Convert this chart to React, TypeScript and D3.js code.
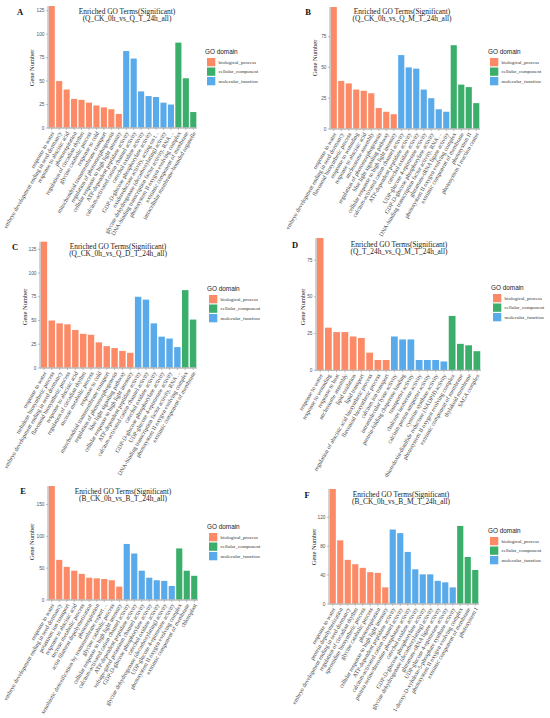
import * as d3 from "d3";

const domainNames = ["biological_process", "cellular_component", "molecular_function"];
const domainColors = ["#FC8A66", "#3BAE6B", "#58AAEA"];
// bar order in each panel: BP, then MF, then CC
const barOrder = [0, 2, 1];

// ---- A
const termsA = [
  "response to water",
  "embryo development ending in seed dormancy",
  "response to abscisic acid",
  "photorespiration",
  "regulation of circadian rhythm",
  "glycine catabolic process",
  "response to cold",
  "mitochondrial transmembrane transport",
  "regulation of photomorphogenesis",
  "cellular response to high light intensity",
  "ATP-dependent peptidase activity",
  "calcium-activated cation channel activity",
  "catechol oxidase activity",
  "GDP-D-glucose phosphorylase activity",
  "oxidoreductase activity, acting on t...",
  "glycine dehydrogenase (decarboxylating) activity",
  "DNA-binding transcription factor activity, RNA ...",
  "photosystem II oxygen evolving complex",
  "extrinsic component of membrane",
  "intracellular membrane-bounded organelle",
];
const countsA = [130, 50, 41, 31, 30, 27, 24, 22, 20, 15, 82, 74, 39, 34, 33, 27, 25, 91, 53, 17];
const sizesA = [10, 7, 3];
const ticksA = [0, 25, 50, 75, 100, 125];

// ---- B
const termsB = [
  "response to water",
  "embryo development ending in seed dormancy",
  "flavonoid biosynthetic process",
  "response to wounding",
  "response to abscisic acid",
  "nucleosome assembly",
  "regulation of photomorphogenesis",
  "blue light signaling pathway",
  "cellular response to high light intensity",
  "calcium-activated cation channel activity",
  "ATP-dependent peptidase activity",
  "catechol oxidase activity",
  "UDP-glucose 4-epimerase activity",
  "GDP-D-glucose phosphorylase activity",
  "DNA-binding transcription factor activity, RNA ...",
  "glutamate-tRNA ligase activity",
  "photosystem II oxygen evolving complex",
  "extrinsic component of membrane",
  "photosystem II",
  "photosystem I reaction center",
];
const countsB = [99, 39, 37, 32, 31, 29, 17, 14, 12, 60, 50, 49, 32, 25, 16, 14, 68, 36, 34, 21];
const sizesB = [9, 7, 4];
const ticksB = [0, 25, 50, 75];

// ---- C
const termsC = [
  "response to water",
  "trehalose biosynthetic process",
  "embryo development ending in seed dormancy",
  "flavonoid biosynthetic process",
  "response to abscisic acid",
  "regulation of circadian rhythm",
  "sucrose metabolic process",
  "response to cold",
  "mitochondrial transmembrane transport",
  "regulation of photomorphogenesis",
  "blue light signaling pathway",
  "cellular response to high light intensity",
  "ATP-dependent peptidase activity",
  "calcium-activated cation channel activity",
  "catechol oxidase activity",
  "GDP-D-glucose phosphorylase activity",
  "UDP-glucose 4-epimerase activity",
  "DNA-binding transcription factor activity, RNA ...",
  "photosystem II oxygen evolving complex",
  "extrinsic component of membrane",
];
const countsC = [133, 50, 47, 46, 40, 36, 35, 27, 23, 21, 18, 16, 75, 72, 47, 33, 31, 22, 82, 51];
const sizesC = [12, 6, 2];
const ticksC = [0, 25, 50, 75, 100, 125];

// ---- D
const termsD = [
  "response to water",
  "response to wounding",
  "response to heat",
  "nucleosome assembly",
  "lipid oxidation",
  "lipid transport",
  "regulation of abscisic acid biosynthetic process",
  "flavonoid biosynthetic process",
  "calcium ion transport",
  "intramolecular lyase activity",
  "protein-folding chaperone binding",
  "transporter activity",
  "chalcone isomerase activity",
  "calcium:proton antiporter activity",
  "cysteine synthase activity",
  "thioredoxin-disulfide reductase (NADPH) activity",
  "photosystem II oxygen evolving complex",
  "extrinsic component of membrane",
  "thylakoid membrane",
  "SAGA complex",
];
const countsD = [90, 29, 26, 26, 23, 22, 12, 7, 7, 23, 21, 21, 7, 7, 7, 6, 37, 18, 17, 13];
const sizesD = [9, 7, 4];
const ticksD = [0, 25, 50, 75];

// ---- E
const termsE = [
  "response to water",
  "embryo development ending in seed dormancy",
  "potassium ion transport",
  "response to abscisic acid",
  "sucrose metabolic process",
  "actin filament depolymerization",
  "photorespiration",
  "xenobiotic detoxification by transmembrane export ...",
  "glycine catabolic process",
  "cellular response to high light intensity",
  "calcium-activated cation channel activity",
  "ATP-dependent peptidase activity",
  "voltage-gated potassium channel activity",
  "GDP-D-glucose phosphorylase activity",
  "catechol oxidase activity",
  "glycine dehydrogenase (decarboxylating) activity",
  "UDP-glucose 4-epimerase activity",
  "photosystem II oxygen evolving complex",
  "extrinsic component of membrane",
  "chloroplast",
];
const countsE = [179, 63, 52, 46, 41, 35, 34, 33, 31, 21, 88, 73, 46, 35, 31, 30, 22, 81, 46, 38];
const sizesE = [10, 7, 3];
const ticksE = [0, 50, 100, 150];

// ---- F
const termsF = [
  "response to water",
  "protein depolymerization",
  "embryo development ending in seed dormancy",
  "regulation of circadian rhythm",
  "spermidine biosynthetic process",
  "glycine catabolic process",
  "photorespiration",
  "cellular response to high light intensity",
  "ATP-dependent peptidase activity",
  "calcium-activated cation channel activity",
  "protein serine/threonine phosphatase activity",
  "catechol oxidase activity",
  "GDP-D-glucose phosphorylase activity",
  "glycine dehydrogenase (decarboxylating) activity",
  "glutamate-tRNA ligase activity",
  "UDP-glucose 4-epimerase activity",
  "1-deoxy-D-xylulose-5-phosphate synthase activity",
  "photosystem II oxygen evolving complex",
  "extrinsic component of membrane",
  "photosystem I",
];
const countsF = [159, 88, 61, 55, 50, 44, 43, 23, 103, 98, 72, 48, 41, 41, 32, 30, 23, 108, 65, 47];
const sizesF = [8, 9, 3];
const ticksF = [0, 40, 80, 120];

const panels = [
  { tag: "A", sub: "(Q_CK_0h_vs_Q_T_24h_all)", terms: termsA, counts: countsA, sizes: sizesA, ticks: ticksA,
    left: 48, right: 197, top: 6, y0: 128, title: [127, 11], letter: [20, 12], ytitle: [32, 68], legend: [205, 52] },
  { tag: "B", sub: "(Q_CK_0h_vs_Q_M_T_24h_all)", terms: termsB, counts: countsB, sizes: sizesB, ticks: ticksB,
    left: 330, right: 480, top: 7, y0: 129, title: [402, 11], letter: [308, 12], ytitle: [315, 58], legend: [488, 52] },
  { tag: "C", sub: "(Q_CK_0h_vs_Q_D_T_24h_all)", terms: termsC, counts: countsC, sizes: sizesC, ticks: ticksC,
    left: 40, right: 197, top: 241.7, y0: 368, title: [118, 246], letter: [15, 247], ytitle: [25, 307], legend: [207, 289] },
  { tag: "D", sub: "(Q_T_24h_vs_Q_M_T_24h_all)", terms: termsD, counts: countsD, sizes: sizesD, ticks: ticksD,
    left: 316, right: 481, top: 238, y0: 370.3, title: [399, 244], letter: [295, 245], ytitle: [303, 307], legend: [491, 288] },
  { tag: "E", sub: "(B_CK_0h_vs_B_T_24h_all)", terms: termsE, counts: countsE, sizes: sizesE, ticks: ticksE,
    left: 48, right: 198, top: 486, y0: 600, title: [123, 491], letter: [23, 491], ytitle: [32, 542], legend: [207, 527] },
  { tag: "F", sub: "(B_CK_0h_vs_B_M_T_24h_all)", terms: termsF, counts: countsF, sizes: sizesF, ticks: ticksF,
    left: 329, right: 479, top: 489, y0: 604, title: [401, 494], letter: [307, 495], ytitle: [314, 547], legend: [488, 531] },
];

type PanelSpec = (typeof panels)[number];

function domainOf(sizes: number[], i: number) {
  let acc = 0;
  for (let k = 0; k < sizes.length; k++) {
    acc += sizes[k];
    if (i < acc) return barOrder[k];
  }
  return 0;
}

function Panel({ p }: { p: PanelSpec }) {
  const x = d3
    .scaleBand<number>()
    .domain(d3.range(p.terms.length))
    .range([p.left, p.right])
    .paddingInner(0.18)
    .paddingOuter(0.09);
  const y = d3
    .scaleLinear()
    .domain([0, d3.max(p.counts) as number])
    .range([p.y0, p.top]);
  const serif = "Liberation Serif, serif";
  const sans = "Liberation Sans, Arial, sans-serif";

  return (
    <g>
      <text x={p.letter[0]} y={p.letter[1]} dy="0.35em" fontFamily={serif} fontWeight="bold" fontSize={8.5} fill="#111" textAnchor="middle">
        {p.tag}
      </text>
      <text x={p.title[0]} y={p.title[1]} dy="0.35em" fontFamily={serif} fontSize={7.4} fill="#222" textAnchor="middle">
        Enriched GO Terms(Significant)
      </text>
      <text x={p.title[0]} y={p.title[1] + 7.6} dy="0.35em" fontFamily={serif} fontSize={7.4} fill="#222" textAnchor="middle">
        {p.sub}
      </text>

      {p.counts.map((c, i) => (
        <rect
          key={i}
          x={x(i)}
          y={y(c)}
          width={x.bandwidth()}
          height={p.y0 - y(c)}
          fill={domainColors[domainOf(p.sizes, i)]}
        />
      ))}

      <line x1={p.left} x2={p.left} y1={p.top} y2={p.y0 + 0.6} stroke="#bdbdbd" strokeWidth={1.3} />
      <line x1={p.left} x2={p.right} y1={p.y0} y2={p.y0} stroke="#bdbdbd" strokeWidth={1.3} />

      {p.ticks.map((t) => (
        <g key={t}>
          <line x1={p.left - 2} x2={p.left} y1={y(t)} y2={y(t)} stroke="#999" strokeWidth={0.6} />
          <text x={p.left - 3.5} y={y(t)} dy="0.35em" fontFamily={sans} fontSize={4.8} fill="#555" textAnchor="end">
            {t}
          </text>
        </g>
      ))}

      {p.terms.map((t, i) => {
        const cx = (x(i) as number) + x.bandwidth() / 2;
        return (
          <g key={i}>
            <line x1={cx} x2={cx} y1={p.y0} y2={p.y0 + 2} stroke="#999" strokeWidth={0.6} />
            <text
              transform={`translate(${cx + 1},${p.y0 + 4}) rotate(-60)`}
              dy="0.35em"
              fontFamily={serif}
              fontSize={5.9}
              fill="#3a3a3a"
              textAnchor="end"
            >
              {t}
            </text>
          </g>
        );
      })}

      <text
        transform={`translate(${p.ytitle[0]},${p.ytitle[1]}) rotate(-90)`}
        dy="0.35em"
        fontFamily={serif}
        fontSize={6.5}
        fill="#222"
        textAnchor="middle"
      >
        Gene Number
      </text>

      <text x={p.legend[0]} y={p.legend[1]} dy="0.35em" fontFamily={sans} fontSize={6.4} fill="#222">
        GO domain
      </text>
      {domainNames.map((d, k) => (
        <g key={d}>
          <rect x={p.legend[0] + 2} y={p.legend[1] + 6 + k * 9.5} width={8.3} height={8.3} fill={domainColors[k]} />
          <text
            x={p.legend[0] + 13.5}
            y={p.legend[1] + 10.2 + k * 9.5}
            dy="0.35em"
            fontFamily={serif}
            fontSize={5}
            fill="#333"
          >
            {d}
          </text>
        </g>
      ))}
    </g>
  );
}

export default function App() {
  return (
    <svg
      width={550}
      height={718}
      viewBox="0 0 550 718"
      style={{ position: "absolute", left: 0, top: 0, background: "#fff" }}
    >
      <rect width={550} height={718} fill="#fff" />
      {panels.map((p) => (
        <Panel key={p.tag} p={p} />
      ))}
    </svg>
  );
}
